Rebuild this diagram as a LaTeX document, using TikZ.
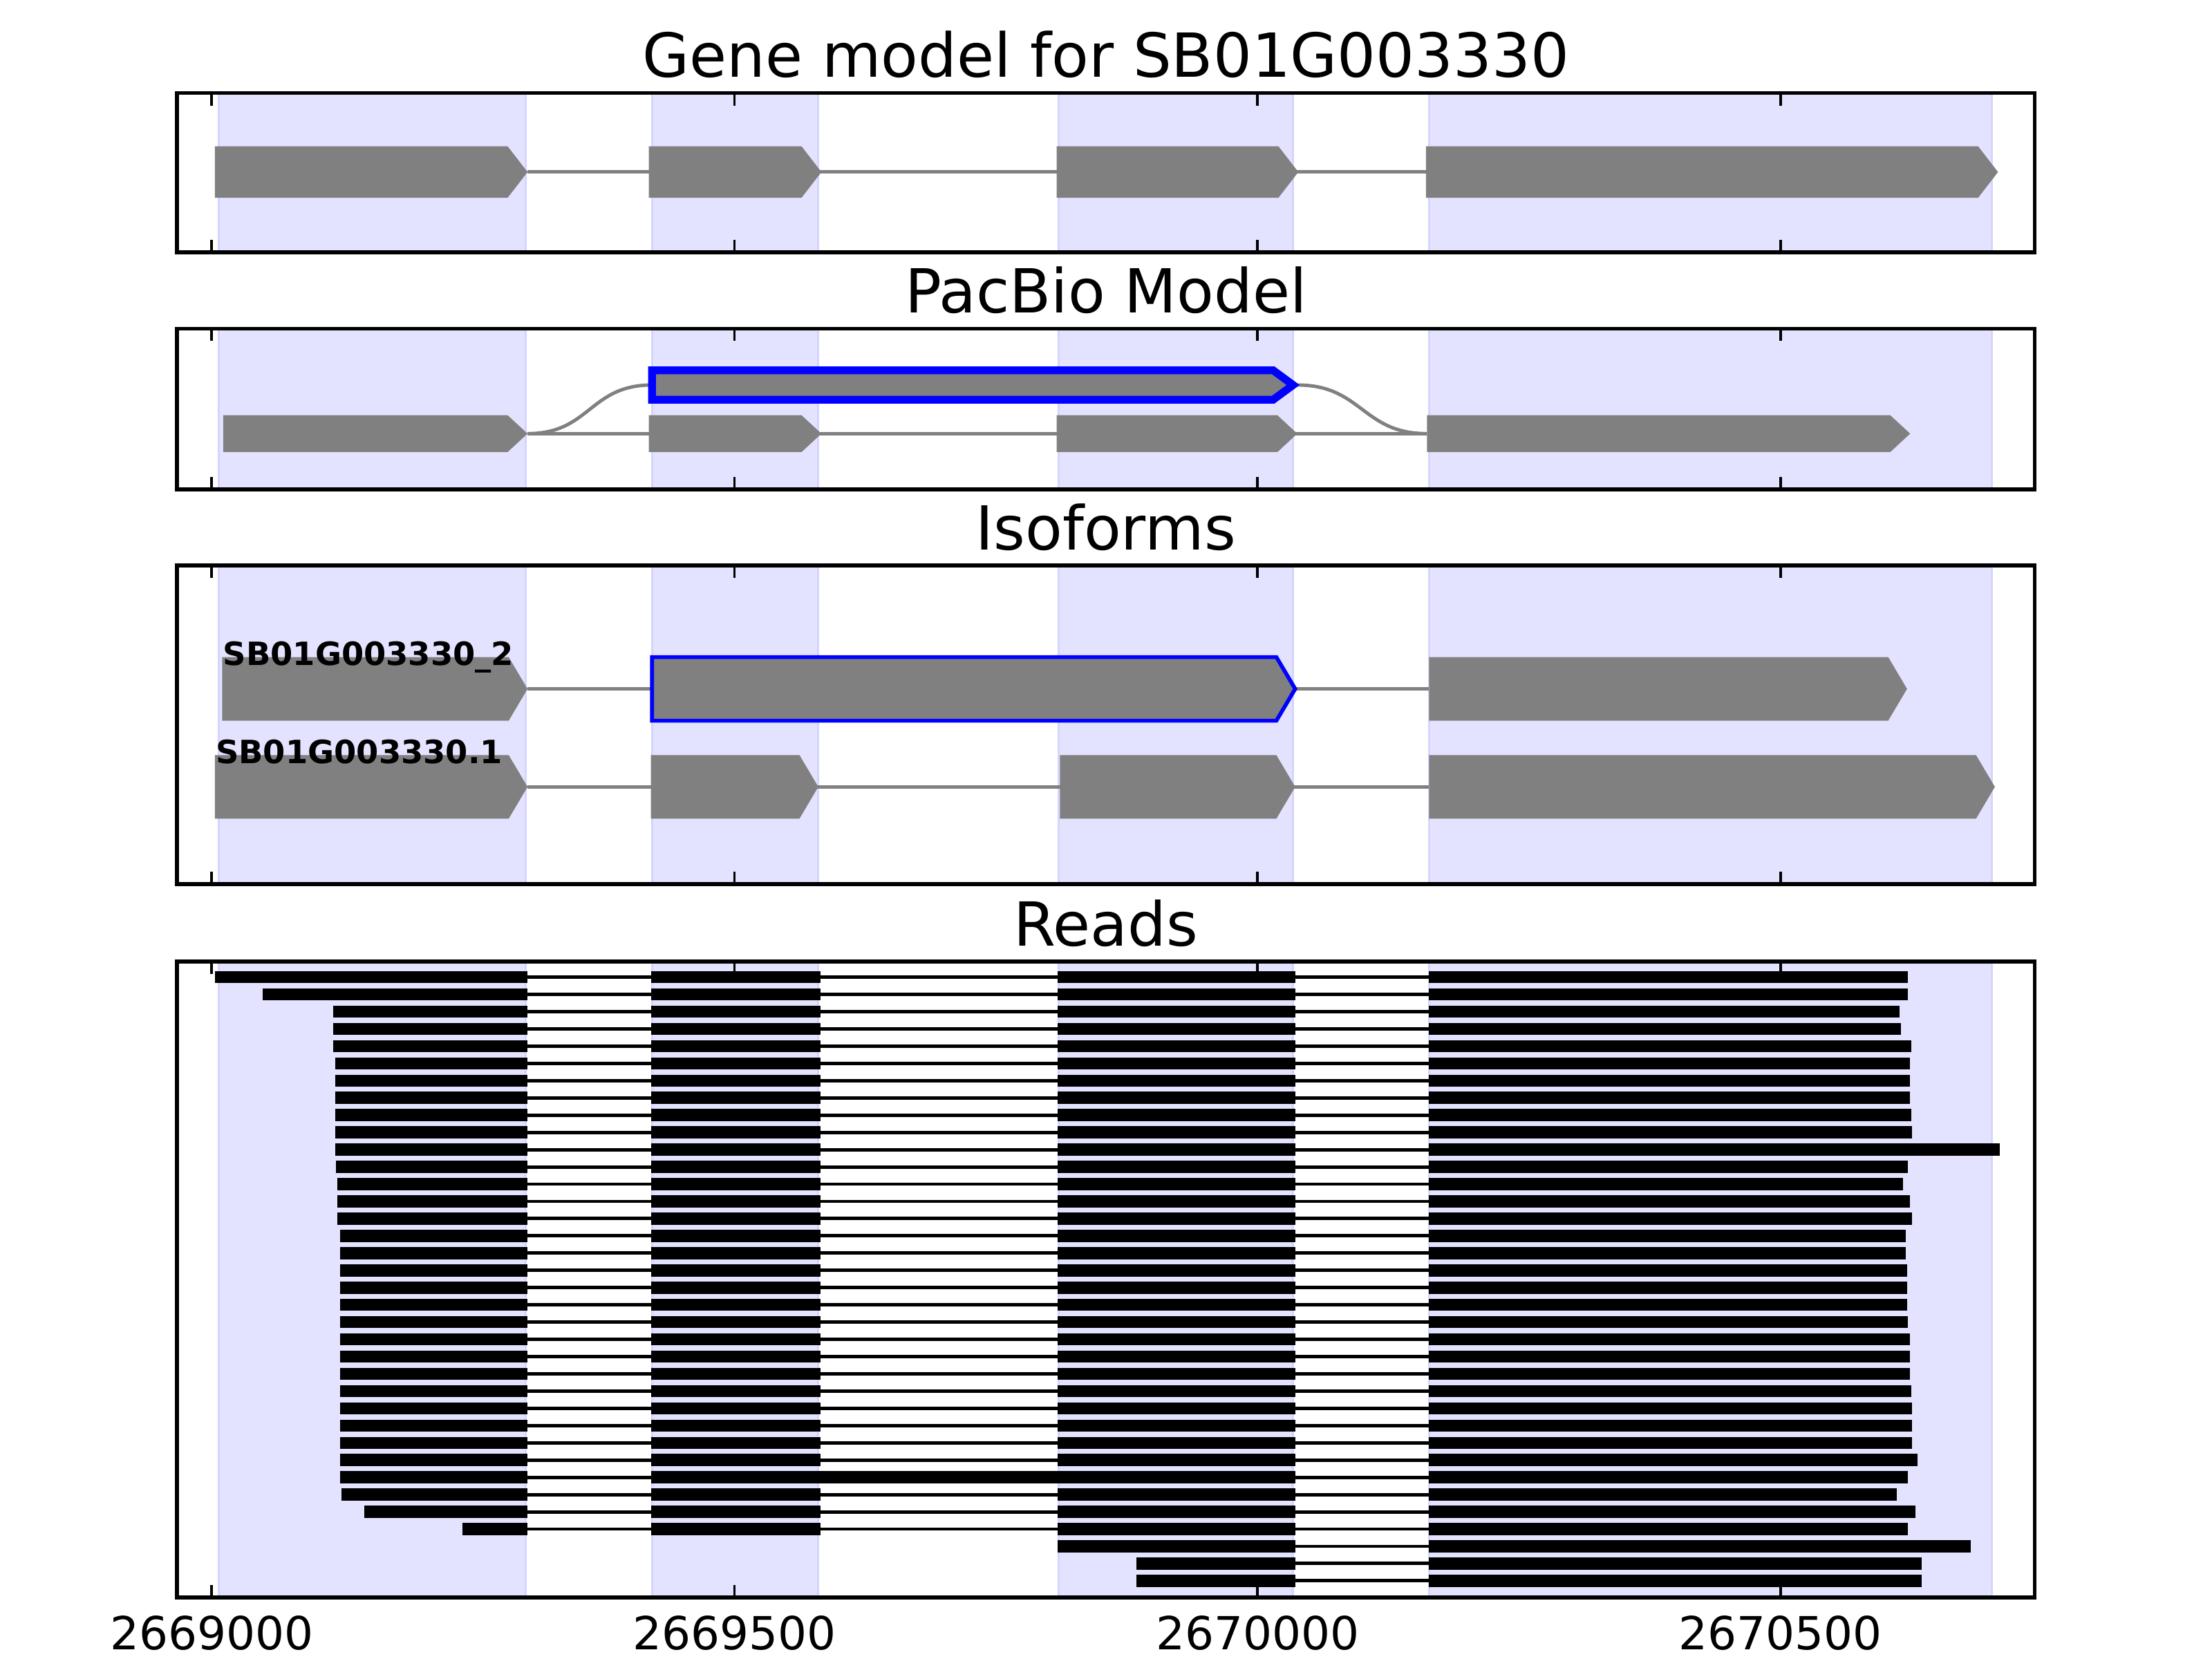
\documentclass[tikz,border=0pt]{standalone}
\usepackage{fontspec}
\setmainfont{DejaVu Sans}
\begin{document}
\begin{tikzpicture}[x=0.007565cm,y=1cm,shift={(1.531cm,0cm)},
  exspan/.style={fill=blue!11,draw=blue!17,line width=0.4pt},
  exon/.style={fill=gray},
  intron/.style={draw=gray,line width=0.7pt},
  axframe/.style={draw=black,line width=0.8pt},
  axtick/.style={line width=0.5pt},
  readexon/.style={line width=2.5pt},
  readintron/.style={line width=0.7pt},
  paneltitle/.style={anchor=base,font=\fontsize{12.5}{15}\selectfont},
  isolabel/.style={anchor=base west,inner sep=0pt,font=\fontsize{6.6}{8}\selectfont\bfseries},
  ticklabel/.style={anchor=base,font=\fontsize{9.4}{11}\selectfont}]
\useasboundingbox (-202.4,0) rectangle (1912.6,12);

% exon spans behind every panel
\foreach \yb/\yt in {10.173/11.327,8.459/9.622,5.602/7.908,0.439/5.041}
  \foreach \a/\b in {7/300,421/580,810/1034,1164/1702}
    \filldraw[exspan] (\a,\yb) rectangle (\b,\yt);

% gene model
\draw[intron] (302,10.755) -- (1161,10.755);
\foreach \a/\b in {3/302,418/583,808/1039,1161/1708}
  \fill[exon] (\a,10.569) -- (\b-19,10.569) -- (\b,10.755)
    -- (\b-19,10.941) -- (\a,10.941) -- cycle;

% pacbio model
\draw[intron] (302,8.862) -- (1162,8.862);
\draw[intron] (302,8.862) .. controls (362,8.862) and (361,9.214) .. (421,9.214);
\draw[intron] (1038,9.214) .. controls (1100,9.214) and (1100,8.862) .. (1162,8.862);
\foreach \a/\b in {11/302,418/583,808/1038,1162/1624}
  \fill[exon] (\a,8.729) -- (\b-19,8.729) -- (\b,8.862)
    -- (\b-19,8.995) -- (\a,8.995) -- cycle;
\filldraw[exon,draw=blue,line width=1.6pt] (421,9.108) -- (1015,9.108) -- (1034,9.214)
  -- (1015,9.320) -- (421,9.320) -- cycle;

% isoforms
\draw[intron] (302,7.015) -- (1164,7.015);
\foreach \a/\b in {10/302,1164/1621}
  \fill[exon] (\a,6.785) -- (\b-18,6.785) -- (\b,7.015)
    -- (\b-18,7.245) -- (\a,7.245) -- cycle;
\filldraw[exon,draw=blue,line width=0.8pt] (421,6.785) -- (1018,6.785) -- (1036,7.015)
  -- (1018,7.245) -- (421,7.245) -- cycle;
\draw[intron] (302,6.306) -- (1164,6.306);
\foreach \a/\b in {3/302,420/580,811/1036,1164/1705}
  \fill[exon] (\a,6.076) -- (\b-18,6.076) -- (\b,6.306)
    -- (\b-18,6.536) -- (\a,6.536) -- cycle;
\node[isolabel] (iso2) at (10,7.184) {SB01G003330\_2};
\node[isolabel] (iso1) at (3,6.476) {SB01G003330.1};

% reads: start/end/kind (0 spliced, 1 retained intron, 2 from exon 3)
\foreach \s/\e/\k [count=\i] in {3/1622/0,49/1622/0,116/1614/0,116/1615/0,
    116/1625/0,118/1624/0,118/1624/0,118/1624/0,118/1625/0,118/1626/0,
    118/1710/0,119/1622/0,120/1617/0,120/1624/0,120/1626/0,123/1620/0,
    123/1620/0,123/1621/0,123/1621/0,123/1621/0,123/1622/0,123/1624/0,
    123/1624/0,123/1624/0,123/1625/0,123/1626/0,123/1626/0,123/1626/0,
    123/1631/0,123/1622/1,124/1611/0,146/1629/0,240/1622/0,809/1682/2,
    884/1635/2,884/1635/2}{
  \pgfmathsetmacro{\y}{4.929-0.1248*(\i-1)}
  \draw[readintron] (\s,\y) -- (\e,\y);
  \ifcase\k
    \draw[readexon] (\s,\y) -- (302,\y) (420,\y) -- (582,\y)
      (809,\y) -- (1036,\y) (1164,\y) -- (\e,\y);
  \or
    \draw[readexon] (\s,\y) -- (302,\y) (420,\y) -- (1036,\y)
      (1164,\y) -- (\e,\y);
  \or
    \draw[readexon] (\s,\y) -- (1036,\y) (1164,\y) -- (\e,\y);
  \fi
}

% frames and ticks
\foreach \yb/\yt in {10.173/11.327,8.459/9.622,5.602/7.908,0.439/5.041}{
  \draw[axframe] (-33,\yb) rectangle (1743,\yt);
  \foreach \t in {0,500,1000,1500}
    \draw[axtick] (\t,\yb) -- ++(0,0.09) (\t,\yt) -- ++(0,-0.09);
}

\node[paneltitle] (gene) at (855,11.442) {Gene model for SB01G003330};
\node[paneltitle] (pacbio) at (855,9.737) {PacBio Model};
\node[paneltitle] (isoforms) at (855,8.023) {Isoforms};
\node[paneltitle] (reads) at (855,5.156) {Reads};

\node[ticklabel] (t0) at (0,0.061) {2669000};
\node[ticklabel] (t1) at (500,0.061) {2669500};
\node[ticklabel] (t2) at (1000,0.061) {2670000};
\node[ticklabel] (t3) at (1500,0.061) {2670500};
\end{tikzpicture}
\end{document}
